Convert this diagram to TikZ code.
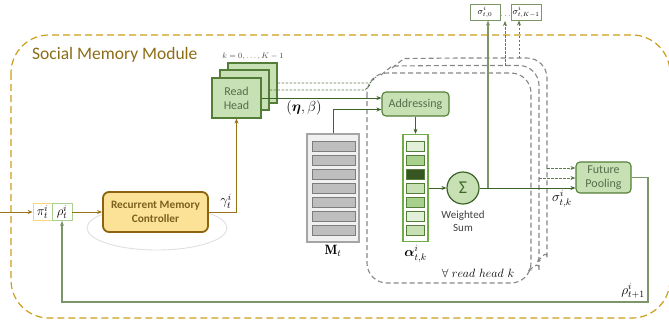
\RequirePackage{fix-cm}
\documentclass[tikz,border=0pt]{standalone}
\usepackage{amsmath,bm}
\usepackage{fontspec}
\setsansfont{Carlito}
\usetikzlibrary{arrows.meta,calc}
\definecolor{gold}{RGB}{204,158,28}
\definecolor{goldtext}{RGB}{140,108,20}
\definecolor{goldarrow}{RGB}{150,115,25}
\definecolor{ctrlfill}{RGB}{252,226,150}
\definecolor{ctrldraw}{RGB}{140,100,15}
\definecolor{ctrltext}{RGB}{125,95,30}
\definecolor{gfill}{RGB}{199,224,180}
\definecolor{gdraw}{RGB}{84,125,55}
\definecolor{gtext}{RGB}{85,110,75}
\definecolor{dgreen}{RGB}{60,100,40}
\definecolor{lgline}{RGB}{125,150,105}
\definecolor{grayd}{RGB}{135,135,135}
\definecolor{dotcol}{RGB}{95,125,75}
\definecolor{memfill}{RGB}{240,240,240}
\definecolor{memdraw}{RGB}{165,165,165}
\definecolor{slotfill}{RGB}{190,190,190}
\definecolor{slotdraw}{RGB}{125,125,125}
\definecolor{aone}{RGB}{226,240,217}
\definecolor{atwo}{RGB}{169,209,142}
\definecolor{athree}{RGB}{55,86,35}
\definecolor{afour}{RGB}{199,224,180}
\definecolor{abord}{RGB}{112,173,71}
\definecolor{piyel}{RGB}{245,215,120}
\definecolor{rhogr}{RGB}{169,209,142}
\tikzset{
  golddash/.style={draw=gold, line width=1.2pt, dash pattern=on 7pt off 4pt},
  gdash/.style={draw=grayd, line width=1.1pt, dash pattern=on 5pt off 3pt},
  dotg/.style={draw=dotcol, line width=0.9pt, dash pattern=on 2.5pt off 1.5pt},
  greenbox/.style={draw=gdraw, fill=gfill, line width=1.1pt, text=gtext,
     font=\sffamily\fontsize{12}{14}\selectfont, align=center, inner sep=0pt},
  ctrlbox/.style={draw=ctrldraw, fill=ctrlfill, line width=1.8pt, rounded corners=6pt,
     text=ctrltext, font=\sffamily\bfseries\fontsize{11.3}{13.5}\selectfont, align=center,
     minimum width=105pt, minimum height=40pt, inner sep=0pt},
  smallbox/.style={draw, fill=white, line width=0.8pt, minimum width=19pt, minimum height=17pt, inner sep=0pt,
     font=\fontsize{13}{14}\selectfont},
  slot/.style={draw=slotdraw, fill=slotfill, line width=0.8pt, minimum width=43pt, minimum height=10pt, inner sep=0pt},
  cell/.style={draw=gdraw, line width=0.8pt, minimum width=18pt, minimum height=10pt, inner sep=0pt},
  sigbox/.style={draw=lgline, fill=white, line width=1pt, minimum width=30pt, minimum height=16pt, inner sep=0pt,
     font=\fontsize{9}{10}\selectfont},
  lab/.style={inner sep=0pt, font=\fontsize{13.5}{15}\selectfont},
  arr/.style={-{Stealth[length=5pt,width=4pt]}},
}
\begin{document}
\begin{tikzpicture}[x=1pt,y=-1pt]
\useasboundingbox (0,0) rectangle (669,322);
% outer module
\draw[golddash, rounded corners=38pt] (11,35) rectangle (670,318);
\node[anchor=west, text=goldtext, font=\sffamily\fontsize{17.5}{20}\selectfont, inner sep=0pt] (title) at (32,55) {Social Memory Module};

% gray dashed loops
\draw[gdash, rounded corners=20pt] (367,73) rectangle (531,283);
\draw[gdash, -{Stealth[length=4pt,width=3.5pt]}] (381,75) -- (392,66) -- (450,65.5) [rounded corners=20pt] -- (539,65.5) -- (539,250) [sharp corners] .. controls (539,261) and (535,266) .. (528,271);
\draw[gdash, -{Stealth[length=4pt,width=3.5pt]}] (392,68) -- (404,58.5) -- (460,58) [rounded corners=20pt] -- (547,58) -- (547,238) [sharp corners] .. controls (547,250) and (543,256) .. (537,262);
\node[lab, font=\fontsize{12}{13}\selectfont, fill=white, inner sep=1pt] (forall) at (478,273) {$\forall\; read\ head\ k$};

% controller
\draw[gray!25, line width=0.9pt] (157,228) ellipse [x radius=70, y radius=22];
\node[ctrlbox] (ctrl) at (155.5,212) {Recurrent Memory\\Controller};

% input boxes
\node[smallbox, draw=piyel] (pi) at (42.5,212) {$\pi_t^i$};
\node[smallbox, draw=rhogr, minimum width=20pt] (rho) at (62,212) {$\rho_t^i$};
\coordinate (in) at (0,212);
\draw[arr, draw=goldarrow, line width=1pt] (in) -- (pi.west);
\draw[arr, draw=goldarrow, line width=1pt] (rho.east) -- (ctrl.west);

% read heads
\node[greenbox, minimum width=49pt, minimum height=40pt] (rh3) at (252.5,83) {};
\node[greenbox, minimum width=49pt, minimum height=40pt] (rh2) at (244.5,90) {};
\node[greenbox, minimum width=49pt, minimum height=40pt] (rh1) at (236.5,98) {Read\\Head};
\node[lab, font=\fontsize{8}{9}\selectfont, text=black!70] (klab) at (253,56) {$k=0,\ldots,K-1$};
\draw[arr, draw=goldarrow, line width=1pt] (ctrl.east) -| (rh1.south);
\node[lab] (gam) at (226,201) {$\gamma_t^i$};

% addressing
\node[greenbox, rounded corners=4pt, minimum width=67pt, minimum height=24pt] (addr) at (415.5,104) {Addressing};
\draw[arr, draw=dgreen, line width=1pt] (rh1.east) -- (rh1.east -| addr.west);
\coordinate (c3) at (370,83);
\coordinate (c2) at (365,90);
\draw[dotg] (rh3.east |- c3) -- (c3) -- (376,77);
\draw[dotg] (rh2.east |- c2) -- (c2) -- (370,85);
\node[lab, font=\fontsize{14.5}{16}\selectfont] (eb) at (304,108) {$(\bm{\eta},\beta)$};

% memory
\node[draw=memdraw, fill=memfill, line width=1.3pt, minimum width=52pt, minimum height=108pt, inner sep=0pt] (mem) at (333,188) {};
\foreach \i in {0,...,6} \node[slot] (m\i) at (333.5,{146+\i*14.1}) {};
\node[lab] (mlab) at (333,251) {$\mathbf{M}_t$};
\coordinate (mt) at (333,109.5);
\draw[arr, draw=dgreen, line width=1pt] (mem.north) -- (mt) -- (mt -| addr.west);

% attention weights
\node[draw=abord, fill=white, line width=1.3pt, minimum width=25pt, minimum height=107pt, inner sep=0pt] (alpha) at (415.5,188) {};
\foreach \i/\c in {0/aone,1/atwo,2/athree,3/afour,4/atwo,5/aone,6/afour}
  \node[cell, fill=\c] (a\i) at (415.5,{146+\i*14.1}) {};
\node[lab] (alab) at (415.5,254) {$\bm{\alpha}_{t,k}^i$};
\draw[arr, draw=dgreen, line width=1pt] (addr.south) -- (alpha.north);

% weighted sum
\node[circle, draw=dgreen, fill=gfill, line width=1.2pt, minimum size=32pt, inner sep=0pt,
      text=dgreen, font=\sffamily\fontsize{18}{19}\selectfont] (sig) at (463,188) {Σ};
\node[font=\sffamily\fontsize{11}{13}\selectfont, text=black!75, align=center, inner sep=0pt] (ws) at (463,221) {Weighted\\Sum};
\draw[arr, draw=dgreen, line width=1pt] (alpha.east) -- (sig.west);

% outputs
\node[sigbox] (s0) at (485,12) {$\sigma_{t,0}^i$};
\node[sigbox] (sK) at (526,12) {$\sigma_{t,K-1}^i$};
\node[inner sep=0pt, font=\fontsize{7}{8}\selectfont] (dots) at (505.5,16.5) {$\ldots$};

\node[greenbox, rounded corners=4pt, minimum width=55pt, minimum height=31pt] (fp) at (603.5,177.5) {Future\\Pooling};
\draw[arr, draw=dgreen, line width=1pt] (sig.east) -- (sig.east -| fp.west);
\coordinate (v) at (488,188);
\draw[arr, draw=lgline, line width=1.3pt] (v) -- (v |- s0.south);
\coordinate (u1) at (505,65.5);
\coordinate (u2) at (519,58);
\draw[dotg, arr] (u1) -- (505,21);
\draw[dotg, arr] (u2) -- (u2 |- sK.south);
\coordinate (o1) at (547,168);
\coordinate (o2) at (539,178);
\draw[dotg, arr] (o1) -- (o1 -| fp.west);
\draw[dotg, arr] (o2) -- (o2 -| fp.west);
\node[lab] (skl) at (562,199) {$\sigma_{t,k}^i$};

% feedback
\coordinate (r1) at (648,177.5);
\coordinate (r2) at (648,302);
\draw[arr, draw=lgline, line width=1.3pt] (fp.east) -- (r1) -- (r2) -| (rho.south);
\node[lab] (rnext) at (633,291) {$\rho_{t+1}^i$};
\end{tikzpicture}
\end{document}
